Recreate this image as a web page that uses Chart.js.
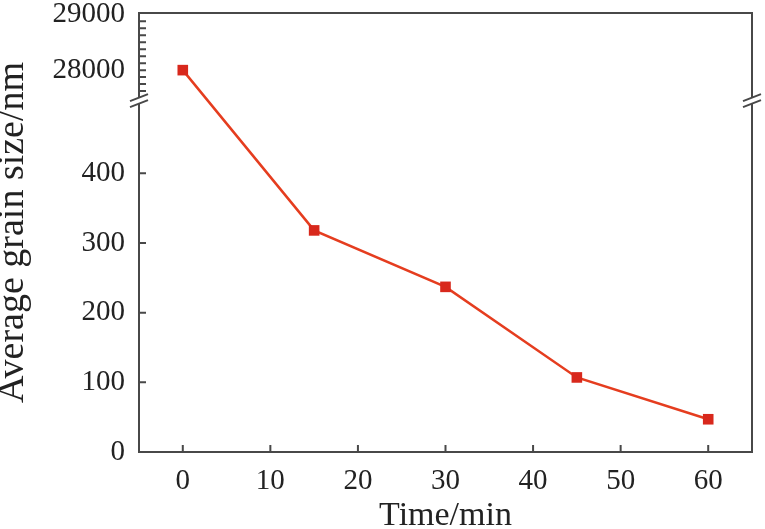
<!DOCTYPE html>
<html>
<head>
<meta charset="utf-8">
<script src="https://cdn.jsdelivr.net/npm/chart.js@4"></script>
<style>
  html, body { margin: 0; background: #fff; }
</style>
</head>
<body>
<canvas id="chart" width="765" height="529"></canvas>
<script>
const times = [0, 15, 30, 45, 60];
const grainSize = [28000, 318, 237, 107, 47];
const xTicks = [0, 10, 20, 30, 40, 50, 60];
const yTicksLower = [0, 100, 200, 300, 400];
const yTicksUpper = [27625, 27750, 27875, 28000, 28125, 28250, 28375, 28500, 28625, 28750, 28875, 29000];
const yLabelsUpper = [28000, 29000];

// broken y axis: the lower part is drawn 1:1, the upper part is squeezed in above the break
const LOWER_TOP = 500, UPPER_BASE = 27400, UPPER_SCALE = 0.08, BREAK_AT = 505;
function toAxis(v) { return v <= LOWER_TOP ? v : LOWER_TOP + (v - UPPER_BASE) * UPPER_SCALE; }
function fromAxis(d) { return d <= LOWER_TOP ? d : Math.round(UPPER_BASE + (d - LOWER_TOP) / UPPER_SCALE); }

const FONT = "'Liberation Serif', 'DejaVu Serif', serif";
const INK = "#222";
const FRAME = "#484848";

// frame, inward tick marks and the // break marks
const framePlugin = {
  id: "frame",
  afterDraw(chart) {
    const { ctx, chartArea: a, scales } = chart;
    ctx.save();
    ctx.strokeStyle = FRAME;
    ctx.lineWidth = 2;
    ctx.strokeRect(a.left, a.top, a.right - a.left, a.bottom - a.top);

    ctx.beginPath();
    scales.y.ticks.forEach(t => {
      const y = scales.y.getPixelForValue(t.value);
      if (y > a.top + 2) { ctx.moveTo(a.left, y); ctx.lineTo(a.left + 7, y); }
    });
    scales.x.ticks.forEach(t => {
      const x = scales.x.getPixelForValue(t.value);
      ctx.moveTo(x, a.bottom); ctx.lineTo(x, a.bottom - 7);
    });
    ctx.stroke();

    const yb = scales.y.getPixelForValue(BREAK_AT);
    [a.left, a.right].forEach(x => {
      ctx.fillStyle = "#fff";
      ctx.fillRect(x - 2, yb - 3, 4, 6);
      ctx.beginPath();
      ctx.moveTo(x - 9, yb + 1); ctx.lineTo(x + 9, yb - 6);
      ctx.moveTo(x - 9, yb + 7); ctx.lineTo(x + 9, yb);
      ctx.stroke();
    });
    ctx.restore();
  },
};

new Chart(document.getElementById("chart"), {
  type: "line",
  data: {
    datasets: [{
      data: times.map((t, i) => ({ x: t, y: toAxis(grainSize[i]) })),
      borderColor: "#e53d1f",
      borderWidth: 2.5,
      backgroundColor: "#d8281c",
      pointBackgroundColor: "#d8281c",
      pointBorderWidth: 0,
      pointStyle: "rect",
      pointRadius: 7.5,
      tension: 0,
    }],
  },
  options: {
    responsive: false,
    animation: false,
    layout: { padding: { top: 13, right: 13, left: 0, bottom: 0 } },
    plugins: { legend: { display: false }, tooltip: { enabled: false } },
    scales: {
      x: {
        type: "linear",
        min: -5,
        max: 65,
        afterBuildTicks: s => { s.ticks = xTicks.map(v => ({ value: v })); },
        afterFit: s => { s.height = 77; s.paddingLeft = 0; s.paddingRight = 0; },
        border: { display: false },
        grid: { display: true, drawOnChartArea: false, drawTicks: false },
        ticks: { color: INK, padding: 12, autoSkip: false, maxRotation: 0, font: { family: FONT, size: 29 } },
        title: {
          display: true,
          text: "Time/min",
          color: INK,
          font: { family: FONT, size: 34, lineHeight: 1 },
          padding: { top: 0, bottom: -4 },
        },
      },
      y: {
        type: "linear",
        min: 0,
        max: 630,
        afterBuildTicks: s => {
          s.ticks = yTicksLower.concat(yTicksUpper).map(v => ({ value: toAxis(v) }));
        },
        afterFit: s => { s.width = 139; s.paddingTop = 0; s.paddingBottom = 0; },
        border: { display: false },
        grid: { display: true, drawOnChartArea: false, drawTicks: false },
        ticks: {
          color: INK,
          padding: 14,
          autoSkip: false,
          font: { family: FONT, size: 29 },
          callback: v => {
            const real = fromAxis(v);
            if (v <= LOWER_TOP) return String(real);
            return yLabelsUpper.includes(real) ? String(real) : "";
          },
        },
        title: {
          display: true,
          text: "Average grain size/nm",
          color: INK,
          font: { family: FONT, size: 38, lineHeight: 1 },
          padding: { top: -6, bottom: 0 },
        },
      },
    },
  },
  plugins: [framePlugin],
});
</script>
</body>
</html>
